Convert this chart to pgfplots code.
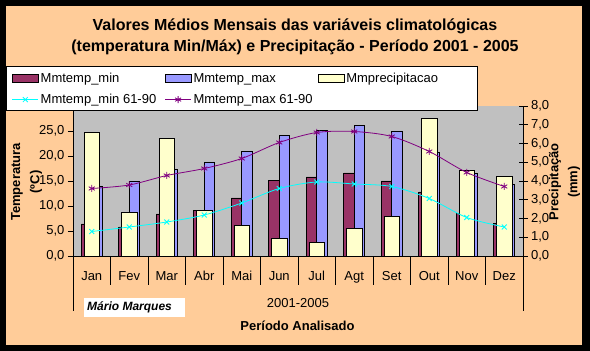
\documentclass[border=0pt]{standalone}
\usepackage{pgfplots}
\pgfplotsset{compat=1.18}
\usepackage{fontspec}
\setmainfont{Liberation Sans}
\definecolor{peach}{HTML}{FFCC99}
\definecolor{plotgray}{HTML}{C0C0C0}
\definecolor{minc}{HTML}{993366}
\definecolor{maxc}{HTML}{9999FF}
\definecolor{prc}{HTML}{FFFFCC}
\definecolor{cyanl}{HTML}{00FFFF}
\definecolor{purpl}{HTML}{800080}
\pgfplotsset{
 base/.style={scale only axis, width=450pt, height=150pt, at={(73pt,95pt)}, anchor=south west,
   xmin=-0.5, xmax=11.5, ymin=0,
   /pgf/number format/.cd, fixed, fixed zerofill, precision=1, use comma, assume math mode=true, /pgfplots/.cd,
   tick label style={font=\fontsize{13}{15}\selectfont},
   tick style={black, line width=0.8pt},
   axis line style={black, line width=0.8pt, -}},
 barleg/.style={legend image code/.code={\draw[##1, line width=0.8pt] (0pt,-4pt) rectangle (26pt,4pt);}},
 lineleg/.style={legend image code/.code={\draw[mark repeat=2,mark phase=2,##1] plot coordinates {(0pt,0pt) (13pt,0pt) (26pt,0pt)};}},
}
\begin{document}
\begin{tikzpicture}[x=1pt,y=1pt]
\path[use as bounding box] (0,0) rectangle (590,351);
\fill[black] (0,0) rectangle (590,351);
\fill[peach] (6,6) rectangle (582,345);
\node[font=\fontsize{16}{20}\selectfont\bfseries] at (295,325) {Valores Médios Mensais das variáveis climatológicas};
\node[font=\fontsize{16}{20}\selectfont\bfseries] at (295,304) {(temperatura Min/Máx) e Precipitação - Período 2001 - 2005};
% primary bars
\begin{axis}[base, ymax=30, axis background/.style={fill=plotgray},
  hide y axis, axis x line*=bottom, tick align=outside,
  xtick={0.5,1.5,...,10.5}, xticklabels={}, major tick length=29pt,
  minor xtick={-0.5,11.5}, minor tick length=55pt,
  extra x ticks={0,...,11},
  extra x tick labels={Jan,Fev,Mar,Abr,Mai,Jun,Jul,Agt,Set,Out,Nov,Dez},
  extra x tick style={major tick length=0pt, xticklabel style={yshift=-12pt}},
  ybar, bar width=10.5pt]
\addplot[ybar, bar shift=-5.25pt, fill=minc, draw=black, line width=0.8pt] coordinates {
(0,6.4) (1,5.8) (2,8.4) (3,9.1) (4,11.6) (5,15.1) (6,15.8) (7,16.6) (8,15.0) (9,12.8) (10,8.5) (11,6.5)};
\addplot[ybar, bar shift=5.25pt, fill=maxc, draw=black, line width=0.8pt] coordinates {
(0,14.0) (1,15.0) (2,17.4) (3,18.8) (4,21.0) (5,24.1) (6,25.1) (7,26.1) (8,25.0) (9,20.7) (10,16.5) (11,14.3)};
\end{axis}
% secondary bars
\begin{axis}[base, ymax=8, axis x line=none, axis y line*=right,
  ytick={0,...,8}, tick align=center, major tick length=9pt,
  ybar, bar width=15.5pt]
\addplot[ybar, bar shift=0pt, fill=prc, draw=black, line width=0.8pt] coordinates {
(0,6.61) (1,2.33) (2,6.27) (3,2.45) (4,1.64) (5,0.94) (6,0.73) (7,1.48) (8,2.12) (9,7.34) (10,4.57) (11,4.25)};
\end{axis}
% lines + legend
\begin{axis}[base, ymax=30, axis x line=none, axis y line*=left,
  ytick={0,5,...,25}, tick align=outside, major tick length=5pt, clip=false,
  legend columns=3, legend cell align=left,
  legend style={draw=none, fill=none, inner sep=0pt,
    at={(axis description cs:-0.1362,1.2367)}, anchor=north west,
    font=\fontsize{13}{15}\selectfont, row sep=5pt,
    nodes={inner ysep=2.5pt},
    /tikz/every even column/.append style={column sep=0pt}}]
\fill[white, draw=black, line width=0.8pt] (rel axis cs:-0.1489,0.9733) rectangle (rel axis cs:0.8978,1.2667);
\addlegendimage{barleg, fill=minc, draw=black}
\addlegendentry{\makebox[122pt][l]{Mmtemp\_min}}
\addlegendimage{barleg, fill=maxc, draw=black}
\addlegendentry{\makebox[122pt][l]{Mmtemp\_max}}
\addlegendimage{barleg, fill=prc, draw=black}
\addlegendentry{\makebox[122pt][l]{Mmprecipitacao}}
\addplot[lineleg, cyanl, line width=0.8pt, smooth, mark=x, mark size=3.5pt] coordinates {
(0,4.9) (1,5.8) (2,6.8) (3,8.2) (4,10.6) (5,13.5) (6,14.8) (7,14.4) (8,13.9) (9,11.5) (10,7.7) (11,5.8)};
\addlegendentry{\makebox[122pt][l]{Mmtemp\_min 61-90}}
\addplot[lineleg, purpl, line width=0.8pt, smooth, mark=asterisk, mark size=3.5pt] coordinates {
(0,13.5) (1,14.2) (2,16.1) (3,17.5) (4,19.5) (5,22.7) (6,24.7) (7,24.9) (8,23.9) (9,20.9) (10,16.7) (11,13.9)};
\addlegendentry{\makebox[122pt][l]{Mmtemp\_max 61-90}}
\end{axis}
% axis titles and notes
\node[rotate=90, font=\fontsize{13}{15}\selectfont\bfseries] at (17,169) {Temperatura};
\node[rotate=90, font=\fontsize{13}{15}\selectfont\bfseries] at (36,169) {(ºC)};
\node[rotate=90, font=\fontsize{13}{15}\selectfont\bfseries] at (555,169) {Precipitação};
\node[rotate=90, font=\fontsize{13}{15}\selectfont\bfseries] at (574,169) {(mm)};
\node[font=\fontsize{13}{15}\selectfont] at (298,48) {2001-2005};
\node[font=\fontsize{13}{15}\selectfont\bfseries] at (297.5,25) {Período Analisado};
\fill[white] (84,34) rectangle (185,53);
\node[font=\fontsize{12}{14}\selectfont\bfseries\itshape, anchor=west, inner sep=0pt] at (87,44) {Mário Marques};
\end{tikzpicture}
\end{document}
